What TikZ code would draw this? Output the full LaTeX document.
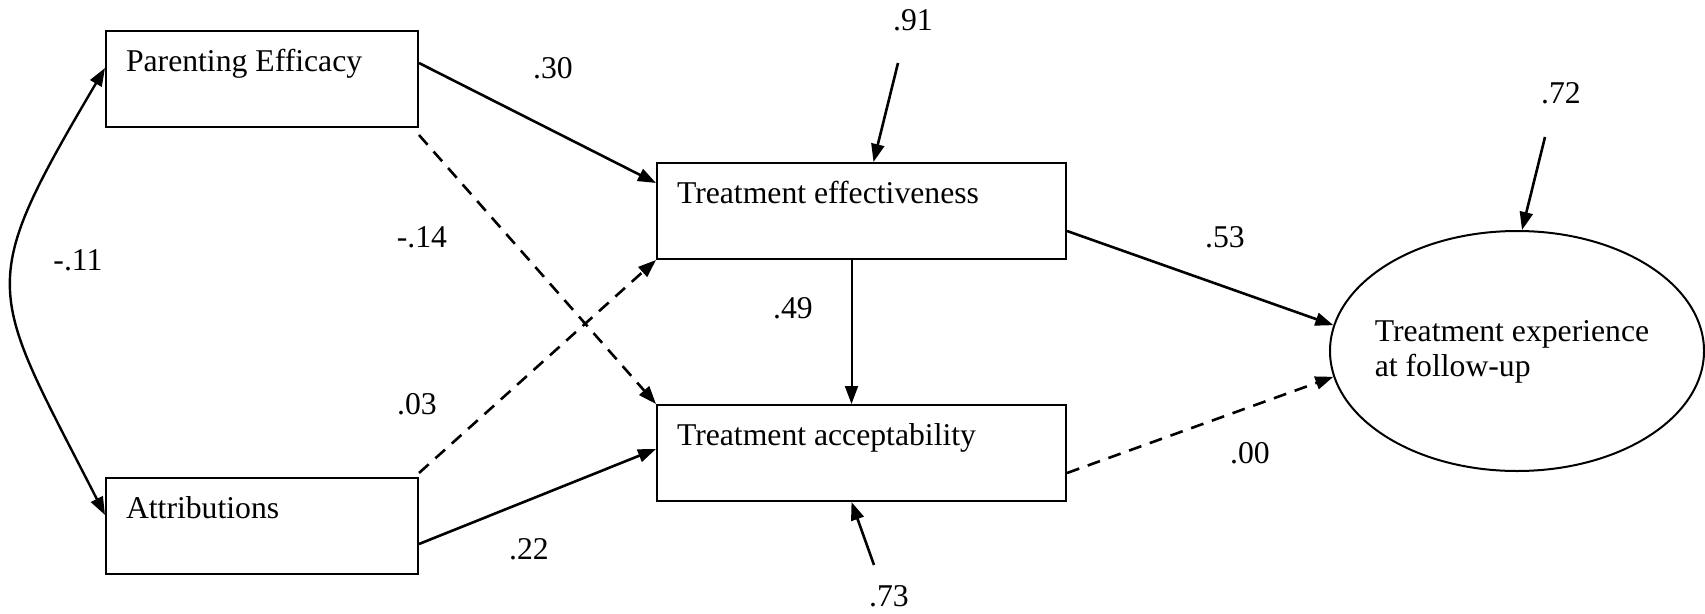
\documentclass[tikz,border=0pt]{standalone}
\usepackage{fontspec}
\setmainfont{Liberation Serif}
\usetikzlibrary{arrows.meta, positioning, shapes.geometric}
\newcommand{\diagfont}{\fontsize{31.7}{35}\selectfont}
\tikzset{
  varbox/.style  = {draw, line width=2pt, inner xsep=20pt, inner ysep=18pt,
                    text height=22pt, text depth=38pt, align=flush left,
                    font=\diagfont},
  outcome/.style = {draw, ellipse, line width=2pt, minimum width=374pt,
                    minimum height=240pt, inner sep=0pt},
  effect/.style  = {-{Triangle[length=18pt, width=13pt]}, line width=2.6pt},
  weak/.style    = {effect, dash pattern=on 13pt off 9pt},
  covar/.style   = {{Triangle[length=18pt, width=13pt]}-{Triangle[length=18pt, width=13pt]}, line width=2.4pt},
  coeflbl/.style = {inner sep=0pt, font=\diagfont},
}

\begin{document}
\begin{tikzpicture}[x=1pt, y=-1pt]
    \useasboundingbox (0,0) rectangle (1705,613);
    % predictors (left column)
    \node[varbox, text width=272pt]              (pe)  at (262,79) {Parenting Efficacy};
    \node[varbox, text width=272pt, below=349pt of pe] (at)  {Attributions};
    % mediators (middle column)
    \node[varbox, text width=369pt]              (te)  at (861.5,211) {Treatment effectiveness};
    \node[varbox, text width=369pt, below=144pt of te] (ta)  {Treatment acceptability};
    % outcome
    \node[outcome]                               (ell) at (1517,351) {};
    \node[coeflbl, align=flush left]             (elltxt) at (1512,352) {Treatment experience\\at follow-up};

    % residual sources
    \coordinate (r91) at (898,63);
    \coordinate (r73) at (874,565);
    \coordinate (r72) at (1545,137);

    \draw[effect] ([yshift=16pt]pe.east) -- ([yshift=28pt]te.west);
    \draw[weak]   ([yshift=-7pt]pe.south east) -- (ta.north west);
    \draw[weak]   ([yshift=4pt]at.north east) -- (te.south west);
    \draw[effect] ([yshift=-18pt]at.east) -- ([yshift=4pt]ta.west);
    \draw[effect, line width=2pt] ([xshift=-10pt]te.south) -- ([xshift=-10pt]ta.north);
    \draw[effect] ([yshift=-20pt]te.east) -- (ell.172);
    \draw[weak]   ([yshift=-20pt]ta.east) -- (ell.188);
    \draw[effect] (r91) -- ([xshift=12pt]te.north);
    \draw[effect] (r73) -- ([xshift=-10pt]ta.south);
    \draw[effect] (r72) -- ([xshift=5pt]ell.north);
    \draw[covar]  ([yshift=11pt]pe.west) .. controls (-26,290) and (-12,286) .. ([yshift=11pt]at.west);

    % path coefficients
    \node[coeflbl] (c91) at (913,20)  {.91};
    \node[coeflbl] (c30) at (553,68)  {.30};
    \node[coeflbl] (c72) at (1561,93) {.72};
    \node[coeflbl] (c11) at (78,260)  {-.11};
    \node[coeflbl] (c14) at (422,237) {-.14};
    \node[coeflbl] (c53) at (1225,237) {.53};
    \node[coeflbl] (c49) at (793,308) {.49};
    \node[coeflbl] (c03) at (417,404) {.03};
    \node[coeflbl] (c00) at (1250,453) {.00};
    \node[coeflbl] (c22) at (529,549) {.22};
    \node[coeflbl] (c73) at (889,596) {.73};
\end{tikzpicture}
\end{document}
